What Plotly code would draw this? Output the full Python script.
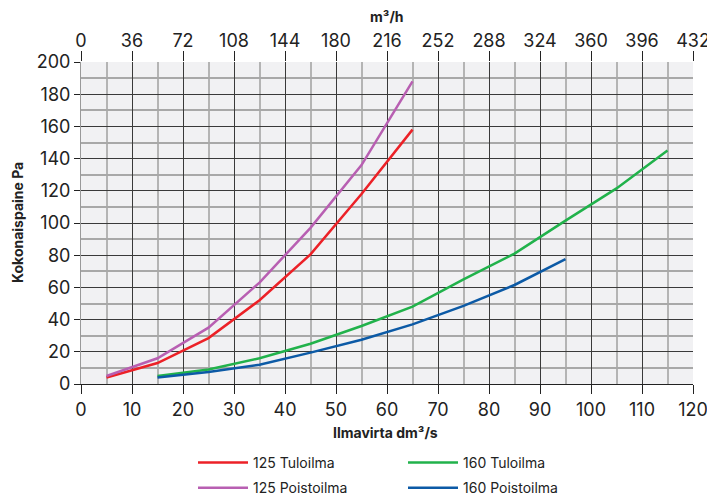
import plotly.graph_objects as go

# Air flow dm3/s and total pressure Pa
flow_125 = [5, 15, 25, 35, 45, 55, 65]
tulo_125 = [4, 13, 28.5, 52, 80.5, 118, 158]
poisto_125 = [5, 16, 35, 63, 97, 136, 188]

flow_160_tulo = [15, 25, 35, 45, 55, 65, 75, 85, 95, 105, 115]
tulo_160 = [5, 9, 16, 25, 36, 48, 65, 81, 101.5, 121.5, 145]
flow_160_poisto = [15, 25, 35, 45, 55, 65, 75, 85, 95]
poisto_160 = [4, 7.5, 12, 19.5, 27.5, 37, 48.5, 61.5, 77.5]

top_ticks = list(range(0, 433, 36))

font = "Inter, Liberation Sans, Arial, sans-serif"
txt = "#222222"

fig = go.Figure()
fig.add_trace(go.Scatter(x=flow_125, y=tulo_125, name="125 Tuloilma", mode="lines",
                         line=dict(color="#ec2127", width=2.5), legend="legend", legendgroup="a"))
fig.add_trace(go.Scatter(x=flow_125, y=poisto_125, name="125 Poistoilma", mode="lines",
                         line=dict(color="#b85fb2", width=2.5), legend="legend", legendgroup="b"))
fig.add_trace(go.Scatter(x=flow_160_tulo, y=tulo_160, name="160 Tuloilma", mode="lines",
                         line=dict(color="#21b24b", width=2.5), legend="legend2", legendgroup="c"))
fig.add_trace(go.Scatter(x=flow_160_poisto, y=poisto_160, name="160 Poistoilma", mode="lines",
                         line=dict(color="#0c5aa6", width=2.5), legend="legend2", legendgroup="d"))
# invisible trace so the m3/h axis is drawn
fig.add_trace(go.Scatter(x=[0, 432], y=[0, 0], xaxis="x2", mode="lines",
                         line=dict(width=0), showlegend=False, hoverinfo="skip"))

# page body adds an 8px offset, so the figure is laid out 8px up/left
leg = dict(font=dict(size=14), orientation="v", bgcolor="rgba(0,0,0,0)",
           tracegroupgap=4, itemwidth=50, xref="container", yref="container",
           xanchor="left", yanchor="top", y=1 - 439 / 497)

fig.update_layout(
    width=715, height=497,
    margin=dict(l=73, r=30, t=54, b=121, autoexpand=False),
    paper_bgcolor="white", plot_bgcolor="#f1f1f3",
    font=dict(family=font, color=txt, size=18),
    xaxis=dict(range=[0, 120], dtick=10, showgrid=True, gridcolor="#3a3a3a", gridwidth=1,
               minor=dict(dtick=5, showgrid=True, gridcolor="#b4b4b4", gridwidth=1.5),
               ticks="outside", ticklen=9, tickcolor="#222", showline=True, linecolor="#222",
               zeroline=False),
    xaxis2=dict(range=[0, 432], tickvals=top_ticks, overlaying="x", side="top",
                showgrid=False, zeroline=False, ticks="outside", ticklen=10, tickcolor="#222",
                ticklabelstandoff=-3),
    yaxis=dict(range=[0, 200], dtick=20, showgrid=True, gridcolor="#3a3a3a", gridwidth=1,
               minor=dict(dtick=10, showgrid=True, gridcolor="#a8a8a8", gridwidth=1.5),
               ticks="outside", ticklen=6, tickcolor="#222", showline=True, linecolor="#999",
               zeroline=False),
    legend=dict(leg, x=185 / 715),
    legend2=dict(leg, x=395 / 715),
    annotations=[
        dict(text="<b>Ilmavirta dm³/s</b>", x=0.497, y=-0.152, xref="paper", yref="paper",
             showarrow=False, font=dict(size=14), xanchor="center", yanchor="middle"),
        dict(text="<b>m³/h</b>", x=0.5, y=1.14, xref="paper", yref="paper",
             showarrow=False, font=dict(size=14), xanchor="center", yanchor="middle"),
        dict(text="<b>Kokonaispaine Pa</b>", x=-0.1046, y=0.503, xref="paper", yref="paper",
             showarrow=False, font=dict(size=14), textangle=-90,
             xanchor="center", yanchor="middle"),
    ],
)

fig.write_html("out.html")
